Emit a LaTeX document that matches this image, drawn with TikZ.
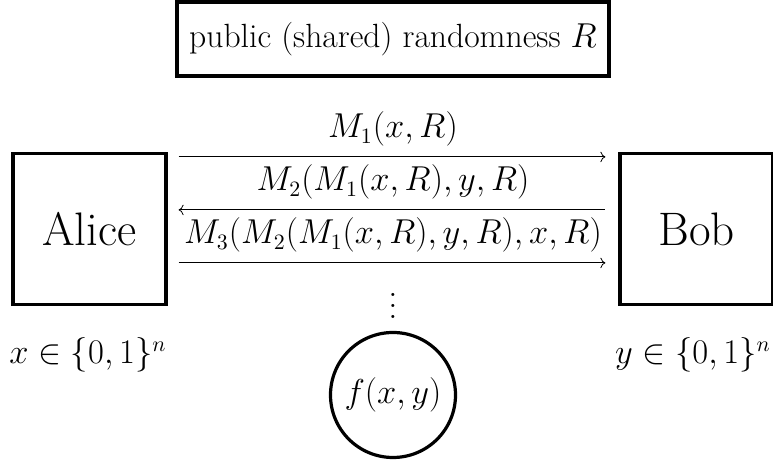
\documentclass[tikz,border=0pt]{standalone}
\usepackage{amsmath}
\usepackage{amssymb}
\usepackage{tikz}
\usetikzlibrary{
  arrows.meta,
  shapes,
  positioning,
  calc
}
\tikzset{
  ccnode/.style={
    draw, ultra thick, align=center, inner sep=0pt
  },
  party/.style={ccnode, minimum width=76.5pt, minimum height=75.5pt,
    font=\fontsize{23.5}{28}\selectfont},
  pubbox/.style={ccnode, minimum width=216pt, minimum height=37pt,
    font=\fontsize{16.8}{20}\selectfont},
  outnode/.style={ccnode, circle, minimum size=62.5pt,
    font=\fontsize{16}{19}\selectfont},
  msg/.style={->, thin, shorten <=5.5pt, shorten >=6.5pt},
  msglabel/.style={font=\fontsize{16}{19}\selectfont, inner sep=2pt},
  input/.style={font=\fontsize{16}{19}\selectfont}
}
\begin{document}
\begin{tikzpicture}[x=0.5pt, y=0.5pt]
  \useasboundingbox (0,0) rectangle (773,464);
  \node[pubbox] (pub) at (393,425) {public (shared) randomness $R$};
  \node[party] (alice) at (89.5,235) {Alice};
  \node[party] (bob) at (696.5,235) {Bob};
  \draw[msg] ([yshift=-2.5pt]alice.north east) -- ([yshift=-2.5pt]bob.north west)
    node[msglabel, midway, above=3pt] {$M_1(x,R)$};
  \draw[msg, <-] ([yshift=-29pt]alice.north east) -- ([yshift=-29pt]bob.north west)
    node[msglabel, midway, above=3pt] {$M_2(M_1(x,R),y,R)$};
  \draw[msg] ([yshift=-55.5pt]alice.north east) -- ([yshift=-55.5pt]bob.north west)
    node[msglabel, midway, above=3pt] {$M_3(M_2(M_1(x,R),y,R),x,R)$};
  \node[scale=1.375, inner sep=0pt] (dots) at (393,166) {\fontsize{11.6}{14}\selectfont$\vdots$};
  \node[outnode] (out) at (393,69) {$f(x,y)$};
  \node[input] (xin) at (88,109) {$x\in\{0,1\}^n$};
  \node[input] (yin) at (693,109) {$y\in\{0,1\}^n$};
\end{tikzpicture}
\end{document}
